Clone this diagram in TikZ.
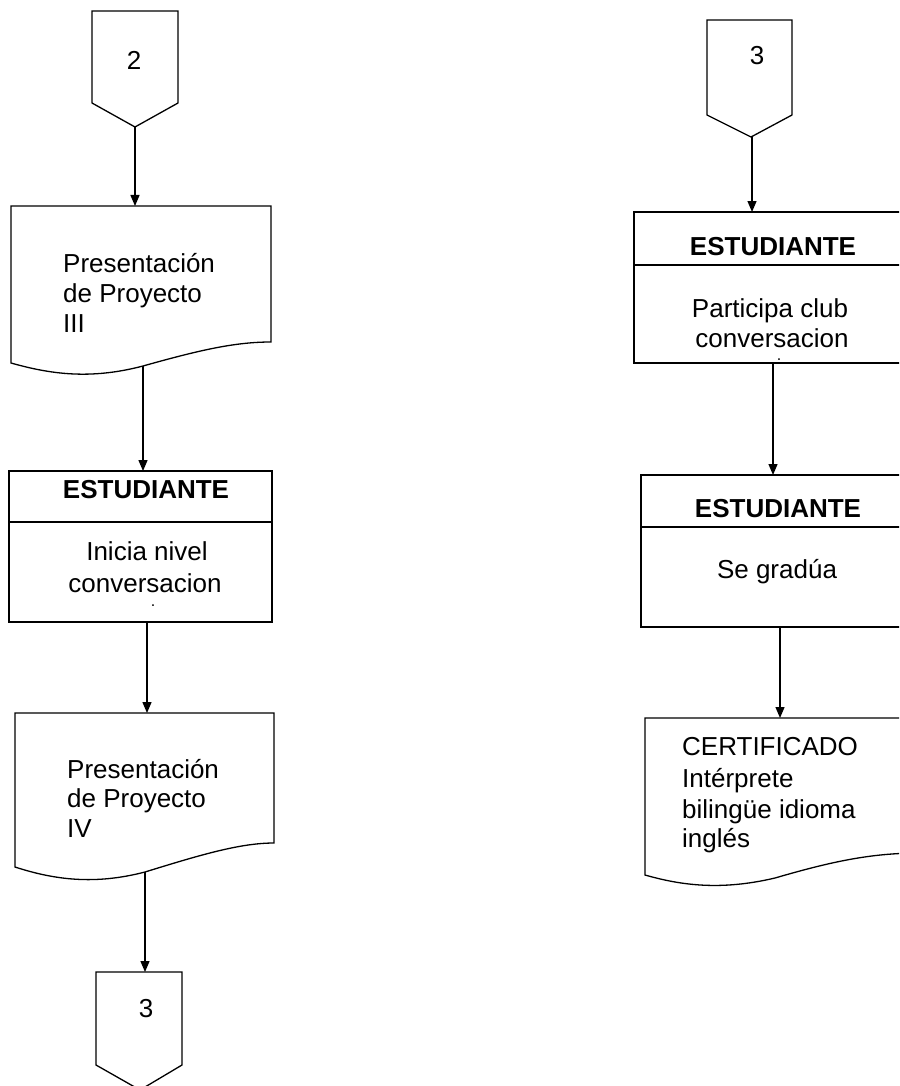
\documentclass[tikz,border=0pt]{standalone}
\usepackage{fontspec}
\setmainfont{Liberation Sans}
\usetikzlibrary{arrows.meta}
\newcommand\fsz{\fontsize{26}{30}\selectfont}
\tikzset{
  shapeline/.style={draw, line width=1.3pt, line join=miter},
  boxline/.style={draw, line width=2pt},
  divline/.style={draw, line width=1.3pt},
  flow/.style={draw, line width=1.3pt, -{Triangle[length=11pt,width=9pt]}},
  lt/.style={font=\fsz, inner sep=0pt, anchor=base west},
  ct/.style={font=\fsz, inner sep=0pt, anchor=base},
  bt/.style={font=\fsz\bfseries, inner sep=0pt, anchor=base},
}
\begin{document}
\begin{tikzpicture}[x=1pt,y=-1pt]
\useasboundingbox (0,0) rectangle (899,1086);
\clip (0,0) rectangle (899,1086);

% ---------- left column ----------
% off-page connector 2
\draw[shapeline] (92,11) -- (178,11) -- (178,103) -- (135,127) -- (92,103) -- cycle;
\coordinate (c2) at (135,127);
\node[ct] (t2) at (134,70) {2};

% document 1
\draw[shapeline] (11,206) -- (271,206) -- (271,342)
  .. controls (235,342) and (200,350) .. (143,366)
  .. controls (90,380) and (50,374) .. (11,363) -- cycle;
\coordinate (d1top) at (135,206);
\coordinate (d1bot) at (143,366);
\node[lt] (d1a) at (63,272) {Presentación};
\node[lt] (d1b) at (63,302) {de Proyecto};
\node[lt] (d1c) at (63,332) {III};

% process box 2
\draw[boxline] (9,471) rectangle (272,622);
\draw[divline] (9,522) -- (272,522);
\coordinate (b2top) at (143,471);
\coordinate (b2bot) at (147,622);
\node[bt] (b2h) at (146,498) {ESTUDIANTE};
\node[ct] (b2a) at (147,560) {Inicia nivel};
\node[ct] (b2b) at (145,592) {conversacion};
\node[ct, font=\fontsize{16}{16}\selectfont] (b2c) at (153,606) {.};

% document 2
\draw[shapeline] (15,713) -- (274,713) -- (274,843)
  .. controls (240,843) and (200,855) .. (145,872)
  .. controls (95,885) and (55,880) .. (15,867) -- cycle;
\coordinate (d2top) at (147,713);
\coordinate (d2bot) at (145,872);
\node[lt] (d2a) at (67,778) {Presentación};
\node[lt] (d2b) at (67,807) {de Proyecto};
\node[lt] (d2c) at (67,837) {IV};

% off-page connector 3 (left)
\draw[shapeline] (96,972) -- (182,972) -- (182,1065) -- (140,1090) -- (96,1065) -- cycle;
\coordinate (c3ltop) at (145,972);
\node[ct] (t3l) at (146,1017) {3};

% ---------- right column ----------
% off-page connector 3 (right)
\draw[shapeline] (707,20) -- (792,20) -- (792,115) -- (751,137) -- (707,115) -- cycle;
\coordinate (c3r) at (752,137);
\node[ct] (t3r) at (757,65) {3};

% process box 1 right
\draw[boxline] (920,212) -- (634,212) -- (634,363) -- (920,363);
\draw[divline] (634,265) -- (920,265);
\coordinate (r1top) at (752,212);
\coordinate (r1bot) at (773,363);
\node[bt] (r1h) at (773,255) {ESTUDIANTE};
\node[ct] (r1a) at (770,317) {Participa club};
\node[ct] (r1b) at (772,347) {conversacion};
\node[ct, font=\fontsize{16}{16}\selectfont] (r1c) at (779,360) {.};

% process box 2 right
\draw[boxline] (920,475) -- (641,475) -- (641,627) -- (920,627);
\draw[divline] (641,527) -- (920,527);
\coordinate (r2top) at (773,475);
\coordinate (r2bot) at (780,627);
\node[bt] (r2h) at (778,517) {ESTUDIANTE};
\node[ct] (r2a) at (777,578) {Se gradúa};

% document 3 right
\draw[shapeline] (920,718) -- (645,718) -- (645,875)
  .. controls (680,885) and (720,891) .. (775,878)
  .. controls (830,862) and (870,853) .. (920,853);
\coordinate (r3top) at (780,718);
\node[lt] (r3a) at (682,755) {CERTIFICADO};
\node[lt] (r3b) at (682,787) {Intérprete};
\node[lt] (r3c) at (682,818) {bilingüe idioma};
\node[lt] (r3d) at (682,847) {inglés};

% ---------- connectors ----------
\draw[flow] (c2) -- (d1top);
\draw[flow] (d1bot) -- (b2top);
\draw[flow] (b2bot) -- (d2top);
\draw[flow] (d2bot) -- (c3ltop);
\draw[flow] (c3r) -- (r1top);
\draw[flow] (r1bot) -- (r2top);
\draw[flow] (r2bot) -- (r3top);
\end{tikzpicture}
\end{document}
